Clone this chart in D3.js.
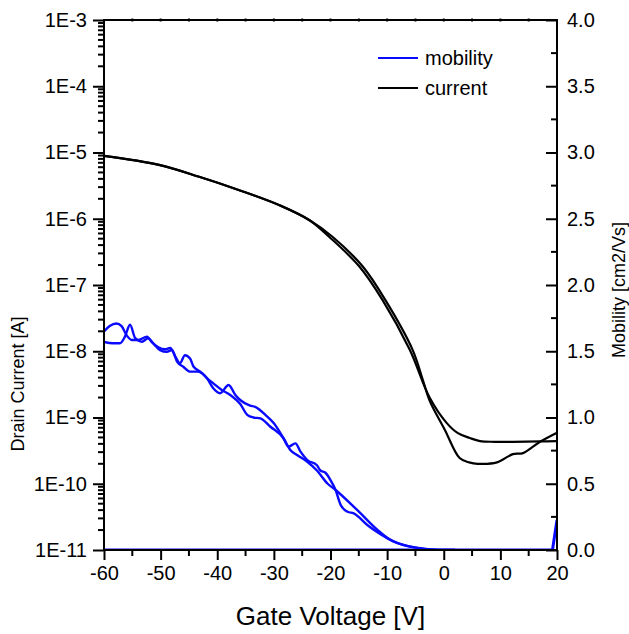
<!DOCTYPE html>
<html>
<head>
<meta charset="utf-8">
<script src="https://cdn.jsdelivr.net/npm/d3@7"></script>
<style>
  html, body { margin: 0; padding: 0; background: #fff; }
  svg { display: block; font-family: "Liberation Sans", Arial, sans-serif; }
</style>
</head>
<body>
<svg id="chart" width="629" height="634"></svg>
<script>
// ---------- data ----------
const xTicks = [-60, -50, -40, -30, -20, -10, 0, 10, 20];
const leftTickLabels = ["1E-11", "1E-10", "1E-9", "1E-8", "1E-7", "1E-6", "1E-5", "1E-4", "1E-3"];
const rightTicks = [0.0, 0.5, 1.0, 1.5, 2.0, 2.5, 3.0, 3.5, 4.0];

// drain current, two sweep branches (gate voltage V, current A)
const currentAV = [-60, -50.3, -43.2, -36.1, -29, -23.7, -20.2, -14.9, -10.8, -6.0, -2.5, 0.5, 2.5, 4.6, 6.4, 9, 12.2, 17, 20];
const currentAI = [8.9e-6, 6.5e-6, 4.3e-6, 2.7e-6, 1.6e-6, 9.5e-7, 5.3e-7, 1.9e-7, 5.9e-8, 1.05e-8, 2.0e-9, 8.3e-10, 5.8e-10, 4.9e-10, 4.4e-10, 4.3e-10, 4.3e-10, 4.35e-10, 4.4e-10];
const currentBV = [-60, -50.3, -43.2, -36.1, -29, -23.7, -19.6, -14.3, -10.3, -5.5, -3.7, -2.5, 0.2, 2.8, 4.5, 6.0, 9.4, 12.2, 14, 17, 20];
const currentBI = [8.9e-6, 6.5e-6, 4.3e-6, 2.7e-6, 1.6e-6, 9.5e-7, 5.3e-7, 1.9e-7, 5.9e-8, 1.05e-8, 3.7e-9, 1.8e-9, 6.5e-10, 2.45e-10, 2.1e-10, 2.0e-10, 2.1e-10, 2.8e-10, 2.9e-10, 4.3e-10, 5.9e-10];

// mobility, two sweep branches (gate voltage V, mobility cm2/Vs)
const mobAV = [-60, -59, -57.8, -56.9, -56, -55.1, -53.9, -52.4, -51.6, -50.4, -49.2, -48.3, -47.4, -46.6, -45.7, -44.8, -44.2, -43, -41.8, -40.7, -39.5, -38, -36.8, -35.9, -34.2, -33.3, -31.5, -30, -28.3, -27.4, -26.2, -25.3, -24.1, -22.4, -21.8, -20.9, -20, -19.1, -18.2, -17, -15.9, -13.5, -12.3, -10, -8, -6, -4, -2, 0, 2];
const mobAM = [1.65, 1.69, 1.71, 1.69, 1.62, 1.585, 1.585, 1.61, 1.57, 1.53, 1.515, 1.525, 1.46, 1.41, 1.47, 1.445, 1.385, 1.346, 1.296, 1.22, 1.183, 1.245, 1.17, 1.13, 1.09, 1.08, 1.02, 0.956, 0.843, 0.779, 0.805, 0.742, 0.679, 0.64, 0.60, 0.583, 0.528, 0.453, 0.34, 0.289, 0.277, 0.189, 0.151, 0.09, 0.05, 0.025, 0.01, 0.003, 0, 0];
const mobBV = [-60, -58.4, -57.2, -56.3, -55.4, -54.5, -53.3, -52.2, -51.3, -50.1, -48.9, -48, -47.1, -46, -44.8, -43.6, -42.7, -41.8, -40.7, -39.2, -37.7, -35.9, -34.7, -33.6, -32.4, -30.6, -28.3, -27.1, -25.9, -24.1, -22.4, -20.5, -19.1, -15.3, -11.7, -9.4, -5.8, -3, -1, 2];
const mobBM = [1.57, 1.56, 1.56, 1.61, 1.70, 1.60, 1.572, 1.597, 1.56, 1.509, 1.496, 1.51, 1.421, 1.383, 1.346, 1.346, 1.334, 1.296, 1.258, 1.208, 1.17, 1.10, 1.02, 1.0, 0.994, 0.93, 0.843, 0.755, 0.717, 0.666, 0.60, 0.50, 0.453, 0.302, 0.151, 0.075, 0.025, 0.008, 0, 0];
// mobility of the zero branch (flat baseline with the end spike)
const mobZeroV = [-60, -40, -20, 0, 19.2, 20];
const mobZeroM = [0, 0, 0, 0, 0, 0.226];

const legendLabels = ["mobility", "current"];
const xTitle = "Gate Voltage [V]";
const yLeftTitle = "Drain Current [A]";
const yRightTitle = "Mobility [cm2/Vs]";

// ---------- layout ----------
const L = 104, R = 557, T = 20, B = 550;
const BLUE = "#0a0aff";
const svg = d3.select("#chart");

const x = d3.scaleLinear().domain([-60, 20]).range([L, R]);
const yL = d3.scaleLog().domain([1e-11, 1e-3]).range([B, T]);
const yR = d3.scaleLinear().domain([0, 4]).range([B, T]);

// clip
svg.append("defs").append("clipPath").attr("id", "clip")
  .append("rect").attr("x", L).attr("y", T - 1).attr("width", R - L).attr("height", B - T + 2);

// ---------- data lines ----------
const zip = (a, b) => a.map((v, i) => [v, b[i]]);
const lineL = d3.line().x(d => x(d[0])).y(d => yL(d[1])).curve(d3.curveCatmullRom.alpha(0.5));
const lineR = d3.line().x(d => x(d[0])).y(d => yR(d[1])).curve(d3.curveMonotoneX);
const lineRlin = d3.line().x(d => x(d[0])).y(d => yR(d[1]));

const g = svg.append("g").attr("clip-path", "url(#clip)");
g.append("path").attr("d", lineR(zip(mobAV, mobAM))).attr("fill", "none").attr("stroke", BLUE).attr("stroke-width", 2.4);
g.append("path").attr("d", lineR(zip(mobBV, mobBM))).attr("fill", "none").attr("stroke", BLUE).attr("stroke-width", 2.4);
g.append("path").attr("d", lineRlin(zip(mobZeroV, mobZeroM))).attr("fill", "none").attr("stroke", BLUE).attr("stroke-width", 3);
g.append("path").attr("d", lineL(zip(currentAV, currentAI))).attr("fill", "none").attr("stroke", "#000").attr("stroke-width", 2.2);
g.append("path").attr("d", lineL(zip(currentBV, currentBI))).attr("fill", "none").attr("stroke", "#000").attr("stroke-width", 2.2);

// ---------- axes ----------
const fs = 20;
// bottom
const xMinor = d3.range(-55, 20, 10);
const bottom = svg.append("g").attr("transform", `translate(0,${B})`);
bottom.call(d3.axisBottom(x).tickValues(xTicks).tickSize(10).tickPadding(6).tickFormat(d3.format("d")));
xMinor.forEach(v => bottom.append("line").attr("x1", x(v)).attr("x2", x(v)).attr("y1", 0).attr("y2", 6).attr("stroke", "#000").attr("stroke-width", 2));
bottom.selectAll("text").attr("font-size", fs).attr("font-family", "Liberation Sans, Arial").attr("fill", "#000")
  .text(d => d < 0 ? "-" + Math.abs(d) : d);
bottom.select(".domain").remove();
bottom.selectAll(".tick line").attr("stroke-width", 2);

// left
const left = svg.append("g").attr("transform", `translate(${L},0)`);
const leftMajor = d3.range(-11, -2).map(e => Math.pow(10, e));
left.call(d3.axisLeft(yL).tickValues(leftMajor).tickSize(11).tickPadding(6)
  .tickFormat((d, i) => leftTickLabels[i]));
left.select(".domain").remove();
left.selectAll(".tick line").attr("stroke-width", 2);
left.selectAll("text").attr("font-size", fs).attr("font-family", "Liberation Sans, Arial").attr("fill", "#000");
const leftMinor = [];
for (let e = -11; e < -3; e++) for (let k = 2; k <= 9; k++) leftMinor.push(k * Math.pow(10, e));
leftMinor.forEach(v => left.append("line").attr("x1", -6).attr("x2", 0).attr("y1", yL(v)).attr("y2", yL(v)).attr("stroke", "#000").attr("stroke-width", 2));

// right
const right = svg.append("g").attr("transform", `translate(${R},0)`);
right.call(d3.axisRight(yR).tickValues(rightTicks).tickSize(-11).tickPadding(-1).tickFormat(d3.format(".1f")));
right.select(".domain").remove();
right.selectAll(".tick line").attr("stroke-width", 2);
right.selectAll("text").attr("font-size", fs).attr("font-family", "Liberation Sans, Arial").attr("fill", "#000").attr("x", 10);
d3.range(0.25, 4, 0.5).forEach(v => right.append("line").attr("x1", -6).attr("x2", 0).attr("y1", yR(v)).attr("y2", yR(v)).attr("stroke", "#000").attr("stroke-width", 2));

// top tiny ticks
d3.range(-55, 20, 5).forEach(v => svg.append("line").attr("x1", x(v)).attr("x2", x(v)).attr("y1", T - 1.5).attr("y2", T + 1.5).attr("stroke", "#000").attr("stroke-width", 2));

// frame
svg.append("rect").attr("x", L).attr("y", T).attr("width", R - L).attr("height", B - T)
  .attr("fill", "none").attr("stroke", "#000").attr("stroke-width", 2);

// ---------- titles ----------
svg.append("text").attr("x", (L + R) / 2).attr("y", 625).attr("text-anchor", "middle")
  .attr("font-size", 26).text(xTitle);
svg.append("text").attr("transform", `translate(24,384) rotate(-90)`).attr("text-anchor", "middle")
  .attr("font-size", 18).text(yLeftTitle);
svg.append("text").attr("transform", `translate(625,290) rotate(-90)`).attr("text-anchor", "middle")
  .attr("font-size", 18).text(yRightTitle);

// ---------- legend ----------
const legendColors = [BLUE, "#000"];
legendLabels.forEach((lab, i) => {
  const yy = 58 + i * 30;
  svg.append("line").attr("x1", 378).attr("x2", 418).attr("y1", yy).attr("y2", yy)
    .attr("stroke", legendColors[i]).attr("stroke-width", 2.2);
  svg.append("text").attr("x", 425).attr("y", yy + 7).attr("font-size", 20).text(lab);
});
</script>
</body>
</html>
